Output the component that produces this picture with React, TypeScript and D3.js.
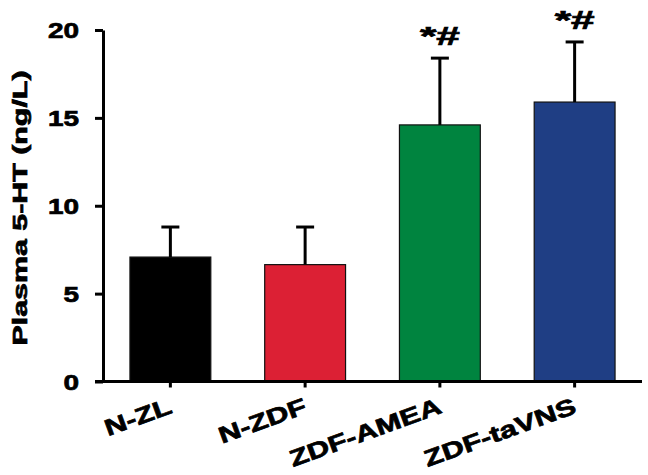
import React, { useEffect, useRef } from 'react';
import * as d3 from 'd3';

const width = 648,
      height = 475;

const groups = ['N-ZL', 'N-ZDF', 'ZDF-AMEA', 'ZDF-taVNS'];
const means = [7.08, 6.65, 14.6, 15.9];
const errors = [1.71, 2.14, 3.8, 3.42];
const marks = ['', '', '*#', '*#'];
const barColors = ['#000000', '#dc2034', '#00843f', '#1f3e84'];
const yTicks = [0, 5, 10, 15, 20];

const font = '"Liberation Sans", Arial, sans-serif';

const App = () => {
    const ref = useRef<SVGSVGElement>(null);

    useEffect(() => {
        const svg = d3.select(ref.current);
        svg.selectAll('*').remove();

        const x = d3.scaleBand().domain(groups).range([103, 642]).paddingInner(0.4).paddingOuter(0.2);
        const y = d3.scaleLinear().domain([0, 20]).range([381.5, 30]);

        const data = groups.map((g, i) => ({ g, mean: means[i], err: errors[i], mark: marks[i], color: barColors[i] }));

        // bars
        svg.append('g').selectAll('rect')
            .data(data).enter().append('rect')
            .attr('x', d => x(d.g))
            .attr('y', d => y(d.mean))
            .attr('width', x.bandwidth())
            .attr('height', d => y(0) - y(d.mean))
            .attr('fill', d => d.color)
            .attr('stroke', '#111')
            .attr('stroke-width', 1.2);

        // error bars (upper only)
        const eb = svg.append('g').attr('stroke', '#000').attr('stroke-width', 3);
        data.forEach(d => {
            const cx = x(d.g) + x.bandwidth() / 2;
            eb.append('line').attr('x1', cx).attr('x2', cx).attr('y1', y(d.mean)).attr('y2', y(d.mean + d.err));
            eb.append('line').attr('x1', cx - 9).attr('x2', cx + 9).attr('y1', y(d.mean + d.err)).attr('y2', y(d.mean + d.err));
        });

        // heavy text look
        const heavy = (sel) => sel
            .attr('font-family', font).attr('font-weight', 'bold')
            .attr('fill', '#000').attr('stroke', '#000').attr('stroke-width', 0.7);

        // significance marks
        svg.append('g').selectAll('text')
            .data(data.filter(d => d.mark)).enter().append('text')
            .attr('x', d => x(d.g) + x.bandwidth() / 2)
            .attr('y', d => y(d.mean + d.err) - 13)
            .attr('text-anchor', 'middle')
            .attr('font-size', 25)
            .attr('textLength', 40)
            .attr('lengthAdjust', 'spacingAndGlyphs')
            .call(heavy)
            .text(d => d.mark);

        // y axis
        const yAxis = svg.append('g')
            .attr('transform', 'translate(103,0)')
            .call(d3.axisLeft(y).tickValues(yTicks).tickSize(8).tickSizeOuter(0));
        yAxis.select('.domain').attr('stroke', '#000').attr('stroke-width', 3);
        yAxis.selectAll('.tick line').attr('stroke', '#000').attr('stroke-width', 3);
        yAxis.selectAll('.tick text').remove();
        yAxis.selectAll('.tick').append('text')
            .attr('transform', 'translate(-24,0) scale(1.27,1)')
            .attr('dy', '0.36em')
            .attr('text-anchor', 'end')
            .attr('font-size', 22)
            .call(heavy)
            .text(d => String(d));

        // x axis
        const xAxis = svg.append('g')
            .attr('transform', `translate(0,${y(0)})`)
            .call(d3.axisBottom(x).tickSize(6).tickSizeOuter(0));
        xAxis.select('.domain').attr('d', `M95,0H642`).attr('stroke', '#000').attr('stroke-width', 3);
        xAxis.selectAll('.tick line').attr('stroke', '#000').attr('stroke-width', 3);
        xAxis.selectAll('.tick text')
            .attr('font-size', 23)
            .call(heavy)
            .attr('text-anchor', 'end')
            .attr('x', 0).attr('y', 0).attr('dy', 0)
            .attr('transform', 'translate(3,31) rotate(-20) scale(1.33,1)');

        // y label
        svg.append('text')
            .attr('transform', 'translate(27,208) rotate(-90)')
            .attr('text-anchor', 'middle')
            .attr('font-size', 20)
            .attr('textLength', 275)
            .attr('lengthAdjust', 'spacingAndGlyphs')
            .call(heavy)
            .text('Plasma 5-HT (ng/L)');
    }, []);

    return (
        <svg ref={ref} width={width} height={height} viewBox={`0 0 ${width} ${height}`}
             style={{ position: 'absolute', left: 0, top: 0, background: '#fff' }} />
    );
};

export default App;
